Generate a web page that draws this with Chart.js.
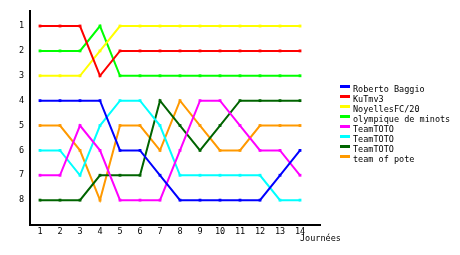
<!DOCTYPE html>
<html>
<head>
<meta charset="utf-8">
<script src="https://cdn.jsdelivr.net/npm/chart.js@4/dist/chart.umd.min.js"></script>
<style>
    html, body { margin: 0; padding: 0; background: #fff; }
    #wrap { width: 460px; height: 255px; }
</style>
</head>
<body>
<div id="wrap"><canvas id="rankChart" width="460" height="255"></canvas></div>
<script>
// journees (x axis) and rank ticks
const days = [1, 2, 3, 4, 5, 6, 7, 8, 9, 10, 11, 12, 13, 14];
const rankTicks = [1, 2, 3, 4, 5, 6, 7, 8];

const teamNames = ["Roberto Baggio", "KuTmv3", "NoyellesFC/20", "olympique de minots",
    "TeamTOTO", "TeamTOTO", "TeamTOTO", "team of pote"];
const teamColors = ["#0000ff", "#ff0000", "#ffff00", "#00ff00",
    "#ff00ff", "#00ffff", "#006400", "#ff9900"];

// classement per journee
const robertoBaggio = [4, 4, 4, 4, 6, 6, 7, 8, 8, 8, 8, 8, 7, 6];
const kuTmv3        = [1, 1, 1, 3, 2, 2, 2, 2, 2, 2, 2, 2, 2, 2];
const noyellesFC    = [3, 3, 3, 2, 1, 1, 1, 1, 1, 1, 1, 1, 1, 1];
const olympique     = [2, 2, 2, 1, 3, 3, 3, 3, 3, 3, 3, 3, 3, 3];
const teamTotoPink  = [7, 7, 5, 6, 8, 8, 8, 6, 4, 4, 5, 6, 6, 7];
const teamTotoCyan  = [6, 6, 7, 5, 4, 4, 5, 7, 7, 7, 7, 7, 8, 8];
const teamTotoGreen = [8, 8, 8, 7, 7, 7, 4, 5, 6, 5, 4, 4, 4, 4];
const teamOfPote    = [5, 5, 6, 8, 5, 5, 6, 4, 5, 6, 6, 5, 5, 5];

const allSeries = [robertoBaggio, kuTmv3, noyellesFC, olympique,
    teamTotoPink, teamTotoCyan, teamTotoGreen, teamOfPote];

const monoFont = { family: "'DejaVu Sans Mono', monospace", size: 8.5 };

// legend + axis title drawn by hand so they sit where the original has them
const sideLegend = {
    id: "sideLegend",
    afterDraw(chart) {
        const ctx = chart.ctx;
        const area = chart.chartArea;
        ctx.save();
        ctx.font = "8.5px 'DejaVu Sans Mono', monospace";
        ctx.textBaseline = "middle";
        ctx.fillStyle = "#000";
        chart.data.datasets.forEach((ds, i) => {
            const y = 90 + i * 10;
            ctx.fillStyle = ds.borderColor;
            ctx.fillRect(area.right + 20, y - 5, 10, 3);
            ctx.fillStyle = "#000";
            ctx.fillText(ds.label, area.right + 33, y);
        });
        ctx.fillText("Journées", area.right - 20, area.bottom + 14);
        ctx.restore();
    }
};

function initRankChart() {
    const ctx = document.getElementById("rankChart").getContext("2d");
    new Chart(ctx, {
        type: "line",
        data: {
            datasets: allSeries.map((vals, i) => ({
                label: teamNames[i],
                data: vals.map((v, j) => ({ x: days[j], y: v })),
                borderColor: teamColors[i],
                backgroundColor: teamColors[i],
                borderWidth: 2,
                pointStyle: "rect",
                pointRadius: 2,
                pointBorderWidth: 0,
                tension: 0,
                fill: false,
            })),
        },
        options: {
            responsive: false,
            animation: false,
            layout: { padding: { top: 10, right: 140, left: 0, bottom: 0 } },
            plugins: {
                legend: { display: false },
                tooltip: { enabled: false },
            },
            scales: {
                x: {
                    type: "linear",
                    min: 0.5,
                    max: 15,
                    afterBuildTicks: axis => { axis.ticks = days.map(v => ({ value: v })); },
                    afterFit: axis => { axis.height = 30; },
                    grid: { display: false, drawTicks: false },
                    border: { color: "#000", width: 2 },
                    ticks: { color: "#000", font: monoFont, padding: 2, maxRotation: 0, autoSkip: false },
                },
                y: {
                    type: "linear",
                    reverse: true,
                    min: 0.4,
                    max: 9,
                    afterBuildTicks: axis => { axis.ticks = rankTicks.map(v => ({ value: v })); },
                    afterFit: axis => { axis.width = 30; },
                    grid: { display: false, drawTicks: false },
                    border: { color: "#000", width: 2 },
                    ticks: { color: "#000", font: monoFont, padding: 6 },
                },
            },
        },
        plugins: [sideLegend],
    });
}

document.addEventListener("DOMContentLoaded", () => {
    initRankChart();
});
</script>
</body>
</html>
